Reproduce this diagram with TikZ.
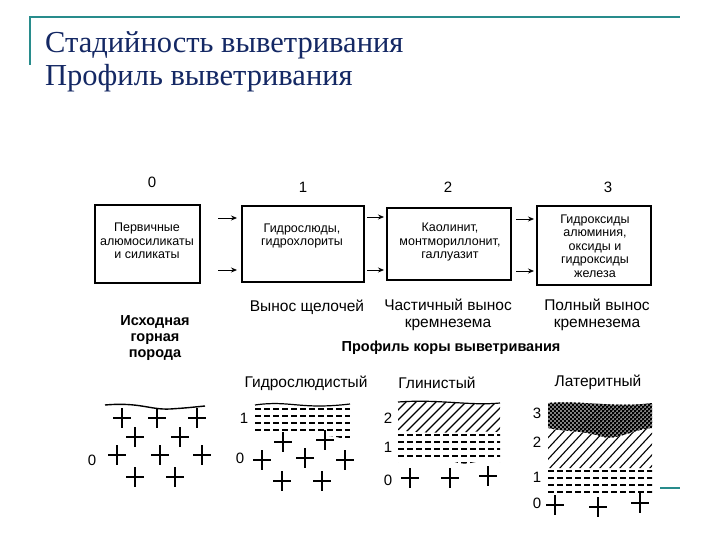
\documentclass[tikz,border=0pt]{standalone}
\usepackage{fontspec}
\setmainfont{Liberation Sans}
\newfontfamily\titlefont{Liberation Serif}
\usetikzlibrary{arrows.meta}
\definecolor{teal1}{RGB}{40,140,140}
\definecolor{tblue}{RGB}{20,40,100}
\tikzset{
  stagebox/.style={draw,line width=1.3pt},
  boxtxt/.style={font=\fontsize{12.5}{13.5}\selectfont,align=center},
  numtxt/.style={font=\fontsize{15}{16}\selectfont},
  captxt/.style={font=\fontsize{15.5}{17}\selectfont,align=center},
  boldtxt/.style={font=\fontsize{14.5}{16}\selectfont\bfseries,align=center},
  arr/.style={-{Stealth[length=6pt,width=5pt]},line width=0.8pt},
  cross/.style={line width=1.2pt},
  dl/.style={line width=1.6pt,dash pattern=on 6pt off 3pt},
  hl/.style={line width=1.1pt},
}
\newcommand{\crs}[2]{\draw[cross] (#1-9,#2)--(#1+9,#2) (#1,#2-10)--(#1,#2+10);}
\begin{document}
\begin{tikzpicture}[x=1pt,y=-1pt]
\useasboundingbox (0,0) rectangle (720,540);
\fill[white] (0,0) rectangle (720,540);
% header
\draw[teal1,line width=1.5pt] (30,65)--(30,17)--(680,17);
\node[anchor=base west,text=tblue,font=\titlefont\fontsize{30.5}{32}\selectfont,inner sep=0] (t1) at (45,53) {Стадийность выветривания};
\node[anchor=base west,text=tblue,font=\titlefont\fontsize{30.5}{32}\selectfont,inner sep=0] (t2) at (45,86) {Профиль выветривания};
\draw[teal1,line width=1.2pt] (660,488)--(680,488);
% numbers
\node[numtxt] (n0) at (152,182) {0};
\node[numtxt] (n1) at (303,187) {1};
\node[numtxt] (n2) at (448,187) {2};
\node[numtxt] (n3) at (608,187) {3};
% boxes
\draw[stagebox] (95,205) rectangle (200,283);
\draw[stagebox] (242,206) rectangle (364,282);
\draw[stagebox] (387,208) rectangle (511,280);
\draw[stagebox] (537,206) rectangle (651,285);
\node[boxtxt] (b0) at (147,241) {Первичные\\алюмосиликаты\\и силикаты};
\node[boxtxt] (b1) at (302,236) {Гидрослюды,\\гидрохлориты};
\node[boxtxt] (b2) at (450,242) {Каолинит,\\монтмориллонит,\\галлуазит};
\node[boxtxt] (b3) at (595,246) {Гидроксиды\\алюминия,\\оксиды и\\гидроксиды\\железа};
\coordinate (a0) at (218,218); \coordinate (a0e) at (237,218);
\coordinate (a1) at (218,270); \coordinate (a1e) at (237,270);
\coordinate (a2) at (367,217); \coordinate (a2e) at (384,217);
\coordinate (a3) at (367,270); \coordinate (a3e) at (384,270);
\coordinate (a4) at (516,219); \coordinate (a4e) at (534,219);
\coordinate (a5) at (516,271); \coordinate (a5e) at (534,271);
\foreach \s/\e in {a0/a0e,a1/a1e,a2/a2e,a3/a3e,a4/a4e,a5/a5e} \draw[arr] (\s)--(\e);
% captions
\node[captxt] (c1) at (307,307) {Вынос щелочей};
\node[captxt] (c2) at (448,315) {Частичный вынос\\кремнезема};
\node[captxt] (c3) at (597,315) {Полный вынос\\кремнезема};
\node[boldtxt] (c0) at (155,338) {Исходная\\горная\\порода};
\node[boldtxt] (cp) at (451,348) {Профиль коры выветривания};
\node[captxt] (p1) at (306,383) {Гидрослюдистый};
\node[captxt] (p2) at (437,383) {Глинистый};
\node[captxt] (p3) at (598,382) {Латеритный};
% profile 0
\draw[line width=1.4pt] (105,405) .. controls (140,402) and (150,410) .. (170,409) .. controls (185,408) .. (205,406);
\crs{122}{418}\crs{157}{418}\crs{197}{418}
\crs{135}{437}\crs{180}{437}
\crs{117}{455}\crs{160}{455}\crs{202}{455}
\crs{135}{477}\crs{175}{477}
\node[numtxt] (l00) at (92,460) {0};
% profile 1
\begin{scope}
\clip (255,405) .. controls (290,400) and (300,410) .. (350,404) -- (350,442) .. controls (330,430) and (300,440) .. (280,432) .. controls (270,436) .. (255,432) -- cycle;
\foreach \y in {409,416,...,442} \draw[dl] (255,\y)--(352,\y);
\end{scope}
\draw[line width=1.2pt] (255,405) .. controls (290,400) and (300,410) .. (350,404);
\node[numtxt] (l11) at (244,418) {1};
\node[numtxt] (l10) at (240,458) {0};
\crs{283}{442}\crs{325}{440}
\crs{262}{460}\crs{305}{458}\crs{345}{460}
\crs{282}{481}\crs{322}{481}
% profile 2
\begin{scope}
\clip (398,402) .. controls (440,399) and (470,406) .. (500,403) -- (500,432) .. controls (470,430) and (440,436) .. (398,430) -- cycle;
\foreach \i in {-40,-30,...,110} \draw[hl] (398+\i,440)--(398+\i+45,395);
\end{scope}
\begin{scope}
\clip (398,430) .. controls (440,436) and (470,430) .. (500,432) -- (500,462) .. controls (480,455) and (470,470) .. (450,460) .. controls (430,465) and (420,458) .. (398,462) -- cycle;
\foreach \y in {435,442,...,468} \draw[dl] (398,\y)--(502,\y);
\end{scope}
\draw[line width=1.2pt] (398,402) .. controls (440,399) and (470,406) .. (500,403);
\node[numtxt] (l22) at (388,418) {2};
\node[numtxt] (l21) at (388,447) {1};
\node[numtxt] (l20) at (388,480) {0};
\crs{410}{478}\crs{450}{478}\crs{488}{476}
% profile 3
\begin{scope}
\clip (548,403) .. controls (580,400) and (615,408) .. (652,403) -- (652,468) -- (548,468) -- cycle;
\foreach \i in {-60,-50,...,110} \draw[hl] (548+\i,470)--(548+\i+65,400);
\end{scope}
\begin{scope}
\clip (548,403) .. controls (580,400) and (615,408) .. (652,403) -- (652,428) .. controls (630,430) and (615,442) .. (600,436) .. controls (580,430) and (565,432) .. (548,428) -- cycle;
\fill[white] (540,395) rectangle (660,450);
\foreach \i in {-60,-56,...,110} {\draw[line width=1.4pt] (548+\i,450)--(548+\i+50,400); \draw[line width=1.4pt] (548+\i,400)--(548+\i+50,450);}
\end{scope}
\begin{scope}
\clip (548,468) rectangle (652,492);
\foreach \y in {471,478,...,492} \draw[dl] (548,\y)--(654,\y);
\end{scope}
\node[numtxt] (l33) at (537,413) {3};
\node[numtxt] (l32) at (537,442) {2};
\node[numtxt] (l31) at (537,477) {1};
\node[numtxt] (l30) at (537,503) {0};
\crs{555}{505}\crs{598}{507}\crs{640}{503}
\end{tikzpicture}
\end{document}
